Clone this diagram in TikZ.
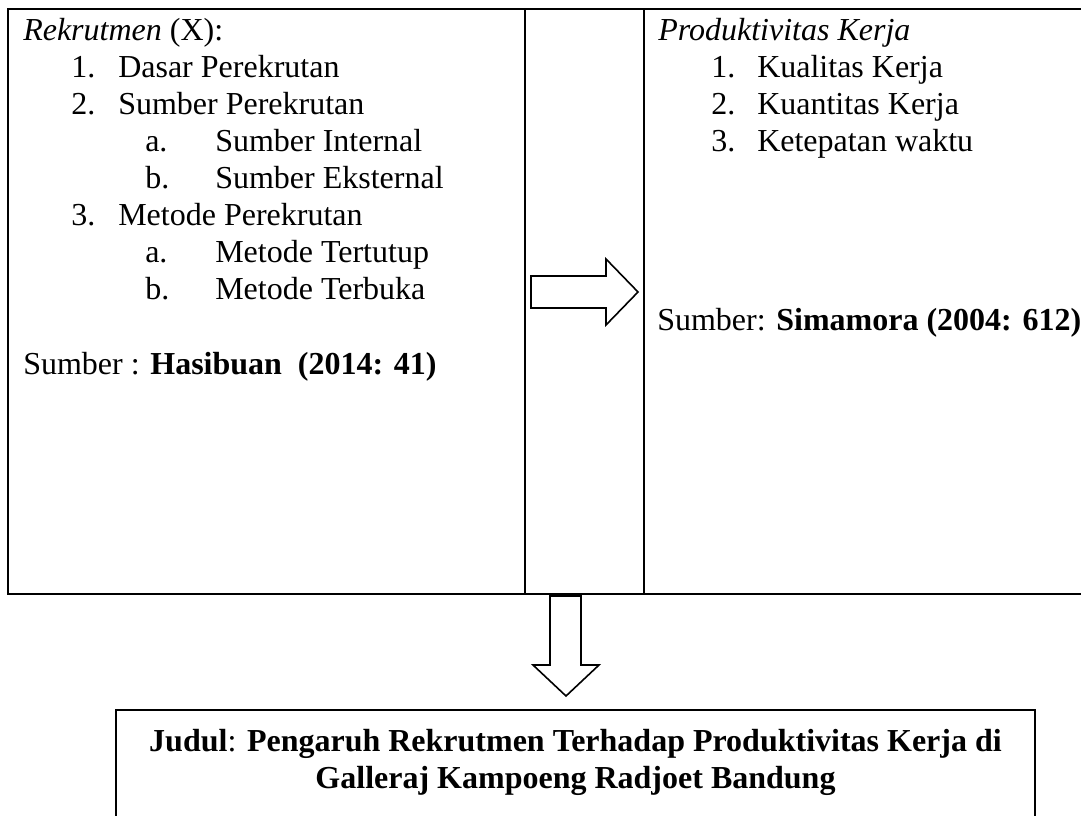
\documentclass[tikz,border=0pt]{standalone}
\usepackage{fontspec}
\setmainfont{Liberation Serif}
\begin{document}
\begin{tikzpicture}[x=0.75pt,y=-0.75pt,
  frame/.style={line width=1.4pt,black},
  divider/.style={line width=1.1pt,black},
  blockarrow/.style={line width=1.2pt,black,fill=white,line join=miter},
  txt/.style={anchor=base west,inner sep=0pt,font=\fontsize{24}{28}\selectfont},
  ttl/.style={anchor=base,inner sep=0pt,font=\fontsize{24}{28}\selectfont\bfseries}]
\useasboundingbox (0,0) rectangle (1081,816);
\clip (0,0) rectangle (1081,816);
% main table
\draw[frame] (1095,9) -- (8,9) -- (8,594) -- (1095,594);
\draw[divider] (525,9) -- (525,594);
\draw[divider] (644,9) -- (644,594);
% left column
\node[txt] (l0) at (23,41) {\itshape Rekrutmen\/\upshape{} (X):};
\node[txt] (l1n) at (71,78) {1.};
\node[txt] (l1) at (118,78) {Dasar Perekrutan};
\node[txt] (l2n) at (71,115) {2.};
\node[txt] (l2) at (118,115) {Sumber Perekrutan};
\node[txt] (l2an) at (145,152) {a.};
\node[txt] (l2a) at (215,152) {Sumber Internal};
\node[txt] (l2bn) at (145,189) {b.};
\node[txt] (l2b) at (215,189) {Sumber Eksternal};
\node[txt] (l3n) at (71,226) {3.};
\node[txt] (l3) at (118,226) {Metode Perekrutan};
\node[txt] (l3an) at (145,263) {a.};
\node[txt] (l3a) at (215,263) {Metode Tertutup};
\node[txt] (l3bn) at (145,300) {b.};
\node[txt] (l3b) at (215,300) {Metode Terbuka};
\node[txt] (lsrc) at (23,374) {Sumber : \textbf{Hasibuan\ \ (2014: 41)}};
% right column
\node[txt] (r0) at (658,41) {\itshape Produktivitas Kerja};
\node[txt] (r1n) at (711,78) {1.};
\node[txt] (r1) at (757,78) {Kualitas Kerja};
\node[txt] (r2n) at (711,115) {2.};
\node[txt] (r2) at (757,115) {Kuantitas Kerja};
\node[txt] (r3n) at (711,152) {3.};
\node[txt] (r3) at (757,152) {Ketepatan waktu};
\node[txt] (rsrc) at (657,331) {Sumber: \textbf{Simamora (2004: 612)}};
% right block arrow
\draw[blockarrow] (531,276) -- (606,276) -- (606,259) -- (638,292) -- (606,325) -- (606,308) -- (531,308) -- cycle;
% down block arrow
\draw[blockarrow] (550,596) -- (581,596) -- (581,665) -- (599,665) -- (566,696) -- (533,665) -- (550,665) -- cycle;
% bottom title box
\draw[frame] (116,830) -- (116,710) -- (1035,710) -- (1035,830);
\node[ttl] (t1) at (575.5,751) {Judul\mdseries:\bfseries{} Pengaruh Rekrutmen Terhadap Produktivitas Kerja di};
\node[ttl] (t2) at (575.5,788) {Galleraj Kampoeng Radjoet Bandung};
\end{tikzpicture}
\end{document}
